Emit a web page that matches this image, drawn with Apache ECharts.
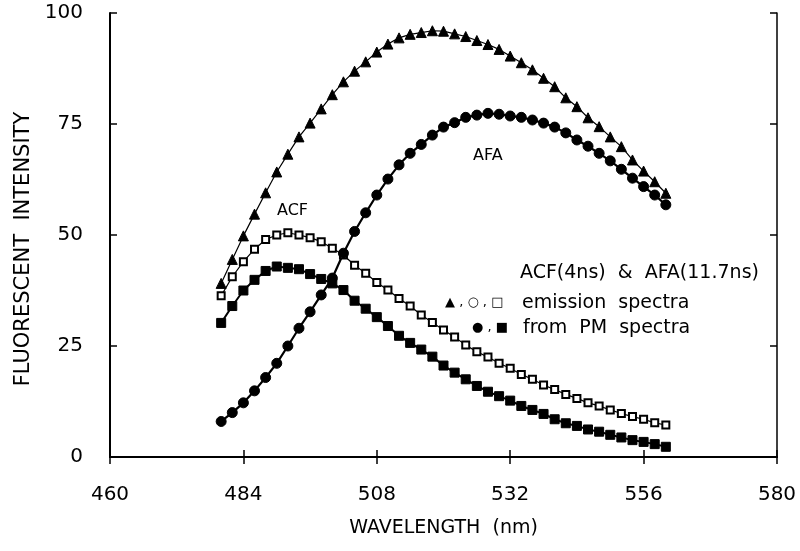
<!DOCTYPE html>
<html>
<head>
<meta charset="utf-8">
<script src="https://cdn.jsdelivr.net/npm/echarts@6/dist/echarts.min.js"></script>
<style>
html,body{margin:0;padding:0;background:#fff;}
#chart{width:800px;height:551px;}
</style>
</head>
<body>
<div id="chart"></div>
<script>
// Wavelengths (nm)
const wavelengths = [480,482,484,486,488,490,492,494,496,498,500,502,504,506,508,510,512,514,516,518,520,522,524,526,528,530,532,534,536,538,540,542,544,546,548,550,552,554,556,558,560];

// Emission spectrum, triangles (top curve)
const emissionTriangle = [39.1,44.5,49.8,54.7,59.5,64.2,68.2,72.1,75.2,78.4,81.6,84.5,86.9,89.0,91.2,93.0,94.4,95.2,95.6,96.0,95.9,95.3,94.7,93.8,92.9,91.8,90.3,88.8,87.2,85.3,83.4,80.9,78.9,76.4,74.4,72.1,69.9,66.9,64.4,62.0,59.4];

// ACF emission spectrum (open squares)
const acfEmission = [36.3,40.6,44.0,46.8,49.0,50.0,50.5,50.0,49.4,48.5,47.0,45.5,43.2,41.4,39.3,37.6,35.7,34.0,32.0,30.3,28.6,27.0,25.2,23.7,22.5,21.1,20.0,18.6,17.5,16.2,15.2,14.1,13.2,12.2,11.5,10.6,9.8,9.1,8.5,7.7,7.2];

// ACF from PM spectra (filled squares)
const acfPM = [30.2,34.0,37.5,39.9,41.9,42.9,42.6,42.3,41.2,40.1,39.1,37.6,35.2,33.4,31.5,29.5,27.3,25.7,24.2,22.6,20.6,19.0,17.5,16.0,14.7,13.7,12.7,11.5,10.6,9.7,8.5,7.6,7.0,6.2,5.7,5.0,4.4,3.8,3.4,2.9,2.3];

// AFA from PM spectra (filled circles)
const afaPM = [8.0,10.0,12.2,14.9,17.9,21.1,25.0,29.0,32.7,36.5,40.3,45.9,50.8,55.0,59.0,62.6,65.8,68.4,70.4,72.5,74.3,75.3,76.5,77.0,77.4,77.2,76.8,76.5,75.9,75.2,74.3,73.0,71.4,70.0,68.4,66.7,64.8,62.8,60.9,59.0,56.8];

// Tick labels
const xTicks = [460,484,508,532,556,580];
const yTicks = [0,25,50,75,100];

const FONT = 'DejaVu Sans';

function pairs(ys){ return wavelengths.map((w,i)=>[w, ys[i]]); }

const chart = echarts.init(document.getElementById('chart'), null, {renderer:'canvas'});

const axisLine = {show:true, lineStyle:{color:'#000', width:2}};
const axisLineThin = {show:true, lineStyle:{color:'#000', width:1.5}};

const option = {
  backgroundColor:'#fff',
  animation:false,
  grid:{left:110, right:23, top:13, bottom:94, containLabel:false},
  xAxis:[{
    type:'value', min:460, max:580,
    position:'bottom',
    name:'WAVELENGTH  (nm)', nameLocation:'middle', nameGap:62,
    nameTextStyle:{fontFamily:FONT, fontSize:19, color:'#000'},
    axisLine:axisLine,
    axisTick:{show:true, inside:true, length:7, lineStyle:{color:'#000', width:1.5}, customValues:xTicks},
    axisLabel:{fontFamily:FONT, fontSize:20, color:'#000', margin:28, customValues:xTicks},
    splitLine:{show:false}
  },{
    type:'value', min:460, max:580, position:'top',
    axisLine:axisLineThin,
    axisTick:{show:true, inside:true, length:7, lineStyle:{color:'#000', width:1.5}, customValues:xTicks},
    axisLabel:{show:false},
    splitLine:{show:false}
  }],
  yAxis:[{
    type:'value', min:0, max:100, interval:25,
    position:'left',
    name:'FLUORESCENT  INTENSITY', nameLocation:'middle', nameGap:76,
    nameTextStyle:{fontFamily:FONT, fontSize:21, color:'#000', padding:[0,28,0,0]},
    axisLine:axisLine,
    axisTick:{show:true, inside:true, length:7, lineStyle:{color:'#000', width:1.5}, customValues:yTicks},
    axisLabel:{fontFamily:FONT, fontSize:20, color:'#000', margin:27, customValues:yTicks},
    splitLine:{show:false}
  },{
    type:'value', min:0, max:100, interval:25, position:'right',
    axisLine:axisLineThin,
    axisTick:{show:true, inside:true, length:7, lineStyle:{color:'#000', width:1.5}},
    axisLabel:{show:false},
    splitLine:{show:false}
  }],
  series:[
    {
      name:'emission (triangles)', type:'line', data:pairs(emissionTriangle),
      symbol:'triangle', symbolSize:10, showAllSymbol:true,
      lineStyle:{color:'#000', width:1.2}, itemStyle:{color:'#000', borderColor:'#000'}
    },
    {
      name:'ACF emission', type:'line', data:pairs(acfEmission),
      symbol:'emptyRect', symbolSize:7, showAllSymbol:true,
      lineStyle:{color:'#000', width:1.2}, itemStyle:{color:'#000', borderColor:'#000', borderWidth:1.8}
    },
    {
      name:'ACF PM', type:'line', data:pairs(acfPM),
      symbol:'rect', symbolSize:9, showAllSymbol:true,
      lineStyle:{color:'#000', width:2}, itemStyle:{color:'#000', borderColor:'#000'}
    },
    {
      name:'AFA PM', type:'line', data:pairs(afaPM),
      symbol:'circle', symbolSize:10, showAllSymbol:true,
      lineStyle:{color:'#000', width:2.2}, itemStyle:{color:'#000', borderColor:'#000'}
    }
  ],
  graphic:[
    {type:'text', left:277, top:203, style:{text:'ACF', font:'16px "DejaVu Sans"', fill:'#000'}},
    {type:'text', left:473, top:148, style:{text:'AFA', font:'16px "DejaVu Sans"', fill:'#000'}},
    {type:'text', left:520, top:264, style:{text:'ACF(4ns)  &  AFA(11.7ns)', font:'19px "DejaVu Sans"', fill:'#000'}},
    {type:'text', left:445, top:296, style:{text:'▲ , ○ , □', font:'13px "DejaVu Sans"', fill:'#000'}},
    {type:'text', left:522, top:294, style:{text:'emission  spectra', font:'19px "DejaVu Sans"', fill:'#000'}},
    {type:'text', left:472, top:321, style:{text:'● , ■', font:'13px "DejaVu Sans"', fill:'#000'}},
    {type:'text', left:523, top:319, style:{text:'from  PM  spectra', font:'19px "DejaVu Sans"', fill:'#000'}}
  ]
};
chart.setOption(option);
</script>
</body>
</html>
